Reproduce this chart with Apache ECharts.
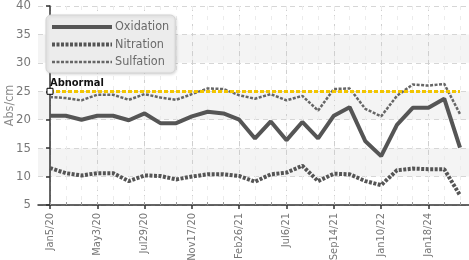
<!DOCTYPE html>
<html>
<head>
<meta charset="utf-8">
<script src="https://cdn.jsdelivr.net/npm/echarts@6/dist/echarts.min.js"></script>
<style>
  html, body { margin: 0; padding: 0; background: #fff; }
  #chart { width: 469px; height: 260px; }
</style>
</head>
<body>
<div id="chart"></div>
<script>
// tick labels shown on the x axis, one every labelStep samples
const tickLabels = ["Jan5/20", "May3/20", "Jul29/20", "Nov17/20", "Feb26/21", "Jul6/21", "Sep14/21", "Jan10/22", "Jan18/24"];
const labelStep = 3;

// measured values (Abs/cm)
const oxidation = [20.7, 20.7, 20.0, 20.7, 20.7, 19.9, 21.1, 19.4, 19.4, 20.6, 21.4, 21.1, 20.0, 16.7, 19.7, 16.4, 19.6, 16.7, 20.7, 22.2, 16.2, 13.6, 19.1, 22.1, 22.1, 23.7, 15.1];
const nitration = [11.5, 10.6, 10.2, 10.6, 10.6, 9.2, 10.2, 10.1, 9.5, 10.0, 10.4, 10.4, 10.1, 9.1, 10.4, 10.7, 11.9, 9.2, 10.5, 10.4, 9.2, 8.5, 11.1, 11.4, 11.3, 11.3, 6.7];
const sulfation = [24.0, 23.8, 23.4, 24.4, 24.4, 23.5, 24.5, 23.9, 23.5, 24.5, 25.5, 25.4, 24.3, 23.7, 24.5, 23.4, 24.2, 21.6, 25.4, 25.5, 21.9, 20.6, 24.2, 26.2, 26.0, 26.3, 21.0];

const abnormalLevel = 25;

const FONT = "'DejaVu Sans Condensed', 'Liberation Sans', sans-serif";

const count = oxidation.length;
const allIdx = oxidation.map((v, i) => i);
const labelIdx = tickLabels.map((t, i) => i * labelStep);

function pairs(arr) {
  return arr.map((v, i) => [i, v]);
}

const chart = echarts.init(document.getElementById("chart"));

const option = {
  animation: false,
  grid: {
    left: 38,
    right: 0,
    top: 6,
    bottom: 55,
    outerBoundsMode: "none",
  },
  legend: {
    orient: "vertical",
    left: 46,
    top: 15,
    padding: [5, 6, 4, 4],
    itemWidth: 60,
    itemHeight: 14,
    itemGap: 3.5,
    backgroundColor: "#ececec",
    borderColor: "#d4d4d4",
    borderWidth: 1,
    borderRadius: 5,
    shadowColor: "rgba(0,0,0,0.15)",
    shadowBlur: 3,
    shadowOffsetX: 1,
    shadowOffsetY: 1,
    itemStyle: { opacity: 0 },
    lineStyle: { width: "inherit" },
    textStyle: {
      fontFamily: FONT,
      fontSize: 12.5,
      lineHeight: 14,
      color: "#6a6a6a",
      padding: [0, 0, 0, -2],
    },
    data: ["Oxidation", "Nitration", "Sulfation"],
  },
  xAxis: [
    {
      type: "value",
      min: -0.76,
      max: count - 1 + 0.57,
      axisLine: { onZero: false, lineStyle: { color: "#333", width: 1.5 } },
      axisTick: {
        customValues: labelIdx,
        length: 4,
        lineStyle: { color: "#333", width: 1.5 },
      },
      axisLabel: {
        customValues: labelIdx,
        rotate: 90,
        margin: 8,
        fontFamily: FONT,
        fontSize: 11,
        color: "#777",
        formatter: (v) => tickLabels[Math.round(v / labelStep)],
      },
      splitLine: {
        show: true,
        lineStyle: { color: "#cfcfcf", type: [5, 4] },
      },
    },
    {
      type: "value",
      position: "bottom",
      min: -0.76,
      max: count - 1 + 0.57,
      axisLine: { show: false },
      axisLabel: { show: false },
      axisTick: {
        customValues: allIdx,
        inside: true,
        length: 3,
        lineStyle: { color: "#999" },
      },
      splitLine: {
        show: true,
        lineStyle: { color: "#ececec", type: [4, 6] },
      },
    },
  ],
  yAxis: {
    type: "value",
    min: 5,
    max: 40,
    interval: 5,
    name: "Abs/cm",
    nameLocation: "middle",
    nameGap: 22,
    nameMoveOverlap: false,
    nameTextStyle: { fontFamily: FONT, fontSize: 12.5, color: "#8c8c8c" },
    axisLine: { show: true, lineStyle: { color: "#333", width: 1.5 } },
    axisTick: { show: true, length: 4, lineStyle: { color: "#333", width: 1.5 } },
    axisLabel: { fontFamily: FONT, fontSize: 13, color: "#777", margin: 7 },
    splitLine: { lineStyle: { color: "#d6d6d6", type: [5, 4] } },
    splitArea: {
      show: true,
      areaStyle: { color: ["rgba(255,255,255,0)", "#f4f4f4"] },
    },
  },
  series: [
    {
      name: "Oxidation",
      type: "line",
      symbol: "none",
      data: pairs(oxidation),
      lineStyle: { color: "#555", width: 4 },
      itemStyle: { color: "#555" },
      z: 3,
    },
    {
      name: "Nitration",
      type: "line",
      symbol: "none",
      data: pairs(nitration),
      lineStyle: { color: "#555", width: 4, type: [3, 1.5] },
      itemStyle: { color: "#555" },
      z: 3,
    },
    {
      name: "Sulfation",
      type: "line",
      symbol: "none",
      data: pairs(sulfation),
      lineStyle: { color: "#666", width: 2.5, type: [3, 1.5] },
      itemStyle: { color: "#666" },
      z: 4,
      markLine: {
        silent: true,
        symbol: "none",
        lineStyle: { color: "#f2c500", width: 3, type: [4, 2] },
        label: {
          show: true,
          position: "insideStartTop",
          distance: [0, 3],
          formatter: "Abnormal",
          fontFamily: FONT,
          fontSize: 11,
          fontWeight: "bold",
          color: "#111",
        },
        data: [
          [
            { coord: [0, abnormalLevel] },
            { coord: [count - 1, abnormalLevel] },
          ],
        ],
      },
      markPoint: {
        silent: true,
        symbol: "rect",
        symbolSize: 6,
        itemStyle: { color: "#fff", borderColor: "#000", borderWidth: 1 },
        label: { show: false },
        data: [{ coord: [0, abnormalLevel] }],
      },
    },
  ],
};

chart.setOption(option);
</script>
</body>
</html>
